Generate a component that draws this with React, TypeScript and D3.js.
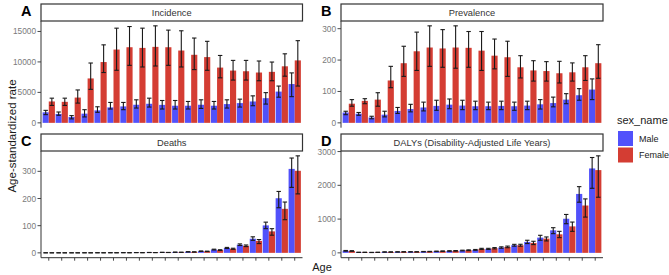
import React from "react";
import * as d3 from "d3";

const ageGroups = ["<5","5-9","10-14","15-19","20-24","25-29","30-34","35-39","40-44","45-49","50-54","55-59","60-64","65-69","70-74","75-79","80-84","85-89","90-94","95+"];
const sexes = ["Male", "Female"];
const sexColors = ["#5151FB", "#D43D33"];

// Incidence
const incMale = [1730,1460,970,1510,2050,2540,2700,2970,3130,2950,2810,2810,2970,2810,3080,3240,3510,4050,5130,6370];
const incMaleLo = [1350,1240,650,970,1730,2270,2160,2430,2590,2270,2270,2270,2370,2270,2430,2590,2810,3080,4210,4300];
const incMaleHi = [2050,1780,1190,2160,2640,3350,3350,3780,4050,3670,3670,3510,3780,3510,3780,3890,4430,4960,6040,8200];
const incFemale = [3510,3450,4150,7290,9980,12030,12410,12300,12470,12410,11870,11170,10790,9070,8580,8470,8260,8370,9280,10250];
const incFemaleLo = [2860,2860,3240,5500,8260,8630,9440,9170,9330,9440,9170,8740,8630,7390,7020,7020,6910,6910,7660,6040];
const incFemaleHi = [4050,4050,5400,9820,12800,15540,15810,15540,15920,15220,15110,13920,13380,11060,10250,10250,10150,9980,11330,13490];

// Prevalence
const prevMale = [33,29,17,26,38,44,49,54,58,55,53,53,54,53,55,59,63,74,88,106];
const prevMaleLo = [26,24,13,19,30,35,38,40,45,42,42,42,42,40,42,44,51,61,72,74];
const prevMaleHi = [37,33,21,37,49,59,66,72,76,72,69,66,69,66,69,74,82,93,109,140];
const prevFemale = [61,70,74,135,190,228,240,237,240,239,230,214,209,177,167,165,158,161,177,190];
const prevFemaleLo = [53,61,53,112,148,167,180,177,174,177,167,172,148,143,133,133,127,133,135,142];
const prevFemaleHi = [74,77,96,180,244,289,309,297,309,291,291,267,260,214,198,195,196,191,214,249];

// Deaths
const deathMale = [0.2,0.2,0.2,0.3,0.4,0.5,0.7,1.0,1.3,1.7,2.3,3.7,6,12,18,30,52,101,201,309];
const deathMaleLo = [0.15,0.15,0.15,0.25,0.3,0.4,0.6,0.85,1.1,1.4,2.0,3.2,5.2,10.5,16,27,46,89,166,241];
const deathMaleHi = [0.25,0.25,0.25,0.35,0.5,0.6,0.8,1.2,1.5,2.0,2.7,4.3,7,13.5,20,33,59,113,226,349];
const deathFemale = [0.15,0.15,0.15,0.2,0.3,0.4,0.5,0.7,1.0,1.4,2.0,3.3,5.5,10,15,26,44,79,162,302];
const deathFemaleLo = [0.1,0.1,0.1,0.15,0.25,0.3,0.4,0.6,0.85,1.2,1.7,2.8,4.7,8.8,13,23,34,65,122,217];
const deathFemaleHi = [0.2,0.2,0.2,0.25,0.35,0.5,0.6,0.8,1.2,1.6,2.3,3.8,6.3,11.5,17,29,49,89,187,357];

// DALYs
const dalyMale = [60,15,12,25,28,30,35,45,55,69,88,118,157,225,324,451,667,1010,1745,2500];
const dalyMaleLo = [50,12,9,20,23,25,29,38,47,59,76,102,136,198,275,373,569,863,1500,1912];
const dalyMaleHi = [70,18,15,30,33,35,41,52,63,79,100,134,178,252,373,520,745,1137,1961,2824];
const dalyFemale = [55,15,15,25,30,30,38,50,60,78,118,137,176,225,294,422,549,784,1402,2451];
const dalyFemaleLo = [46,12,12,20,25,25,32,42,51,67,102,118,152,196,245,353,451,637,1059,1647];
const dalyFemaleHi = [64,18,18,30,35,35,44,58,69,89,134,156,200,254,343,471,637,912,1598,2873];

const incTicks = [0, 5000, 10000, 15000];
const prevTicks = [0, 100, 200, 300];
const deathTicks = [0, 100, 200, 300];
const dalyTicks = [0, 1000, 2000, 3000];

const panelTitles = ["Incidence", "Prevalence", "Deaths", "DALYs (Disability-Adjusted Life Years)"];
const panelLetters = ["A", "B", "C", "D"];

const FONT = "'Liberation Sans', Arial, Helvetica, sans-serif";

type PanelData = {
  title: string; letter: string; ticks: number[];
  vals: number[][]; lo: number[][]; hi: number[][];
};

const panels: PanelData[] = [
  { title: panelTitles[0], letter: panelLetters[0], ticks: incTicks, vals: [incMale, incFemale], lo: [incMaleLo, incFemaleLo], hi: [incMaleHi, incFemaleHi] },
  { title: panelTitles[1], letter: panelLetters[1], ticks: prevTicks, vals: [prevMale, prevFemale], lo: [prevMaleLo, prevFemaleLo], hi: [prevMaleHi, prevFemaleHi] },
  { title: panelTitles[2], letter: panelLetters[2], ticks: deathTicks, vals: [deathMale, deathFemale], lo: [deathMaleLo, deathFemaleLo], hi: [deathMaleHi, deathFemaleHi] },
  { title: panelTitles[3], letter: panelLetters[3], ticks: dalyTicks, vals: [dalyMale, dalyFemale], lo: [dalyMaleLo, dalyFemaleLo], hi: [dalyMaleHi, dalyFemaleHi] },
];

const colLeft = [41, 341];
const colRight = [302.5, 603];
const rowStripTop = [4, 134];
const stripH = 17;
const plotH = 106.7;

function Panel({ p, idx }: { p: PanelData; idx: number }) {
  const col = idx % 2;
  const row = Math.floor(idx / 2);
  const left = colLeft[col];
  const right = colRight[col];
  const stripTop = rowStripTop[row];
  const top = stripTop + stripH;
  const bottom = top + plotH;

  const x = d3.scalePoint<string>().domain(ageGroups).range([left, right]).padding(0.6);
  const step = x.step();
  const maxV = d3.max(p.hi.flat()) as number;
  const r = maxV;
  const y = d3.scaleLinear().domain([-0.05 * r, maxV + 0.05 * r]).range([bottom, top]);
  const groupW = step * 0.95;
  const barW = groupW / 2;
  const capHalf = barW * 0.36;

  return (
    <g>
      {/* strip */}
      <rect x={left} y={stripTop} width={right - left} height={stripH} fill="#fff" stroke="#333" strokeWidth={1.2} />
      <text x={(left + right) / 2} y={stripTop + stripH / 2 + 0.5} textAnchor="middle" dominantBaseline="central" fontSize={9.3} fill="#333" fontFamily={FONT}>{p.title}</text>
      {/* letter */}
      <text x={left - 20} y={stripTop + 12} textAnchor="start" fontSize={14.5} fontWeight="bold" fill="#000" fontFamily={FONT}>{p.letter}</text>
      {/* bars */}
      {ageGroups.map((a, i) => (
        <g key={a}>
          {sexes.map((s, k) => {
            const cx = (x(a) as number) - groupW / 2 + k * barW;
            const v = p.vals[k][i];
            return (
              <rect key={s} x={cx} y={y(Math.max(v, 0))} width={barW} height={y(0) - y(v)} fill={sexColors[k]} />
            );
          })}
        </g>
      ))}
      {/* error bars */}
      {ageGroups.map((a, i) => (
        <g key={"e" + a}>
          {sexes.map((s, k) => {
            const bx = (x(a) as number) - groupW / 2 + k * barW + barW / 2;
            const lo = y(p.lo[k][i]);
            const hi = y(p.hi[k][i]);
            return (
              <g key={s} stroke="#1a1a1a" strokeWidth={1.1}>
                <line x1={bx} x2={bx} y1={lo} y2={hi} />
                <line x1={bx - capHalf} x2={bx + capHalf} y1={lo} y2={lo} />
                <line x1={bx - capHalf} x2={bx + capHalf} y1={hi} y2={hi} />
              </g>
            );
          })}
        </g>
      ))}
      {/* y axis */}
      <line x1={left} x2={left} y1={top} y2={bottom} stroke="#333" strokeWidth={1} />
      {p.ticks.map((t) => (
        <g key={t}>
          <line x1={left - 3.5} x2={left} y1={y(t)} y2={y(t)} stroke="#333" strokeWidth={0.9} />
          <text x={left - 5} y={y(t)} textAnchor="end" dominantBaseline="central" fontSize={8.3} fill="#7a7a7a" fontFamily={FONT}>{t}</text>
        </g>
      ))}
      {/* x axis for bottom row */}
      {row === 1 && (
        <g>
          <line x1={left} x2={right} y1={bottom} y2={bottom} stroke="#333" strokeWidth={1} />
          {ageGroups.map((a) => (
            <line key={a} x1={x(a)} x2={x(a)} y1={bottom} y2={bottom + 3} stroke="#333" strokeWidth={0.9} />
          ))}
        </g>
      )}
    </g>
  );
}

export default function App() {
  return (
    <svg width={669} height={275} style={{ position: "absolute", left: 0, top: 0, background: "#fff" }} fontFamily={FONT}>
      <rect x={0} y={0} width={669} height={275} fill="#fff" />
      {panels.map((p, i) => (
        <Panel key={p.title} p={p} idx={i} />
      ))}
      {/* axis titles */}
      <text transform="translate(12,136) rotate(-90)" textAnchor="middle" dominantBaseline="central" fontSize={11.5} fill="#1a1a1a" fontFamily={FONT}>Age-standardized rate</text>
      <text x={322} y={267} textAnchor="middle" dominantBaseline="central" fontSize={11} fill="#1a1a1a" fontFamily={FONT}>Age</text>
      {/* legend */}
      <text x={617} y={124} fontSize={11} fill="#1a1a1a" fontFamily={FONT}>sex_name</text>
      {sexes.map((s, k) => (
        <g key={s}>
          <rect x={618} y={131 + k * 16.5} width={15} height={15} fill={sexColors[k]} />
          <text x={639} y={138.5 + k * 16.5} dominantBaseline="central" fontSize={9} fill="#1a1a1a" fontFamily={FONT}>{s}</text>
        </g>
      ))}
    </svg>
  );
}
